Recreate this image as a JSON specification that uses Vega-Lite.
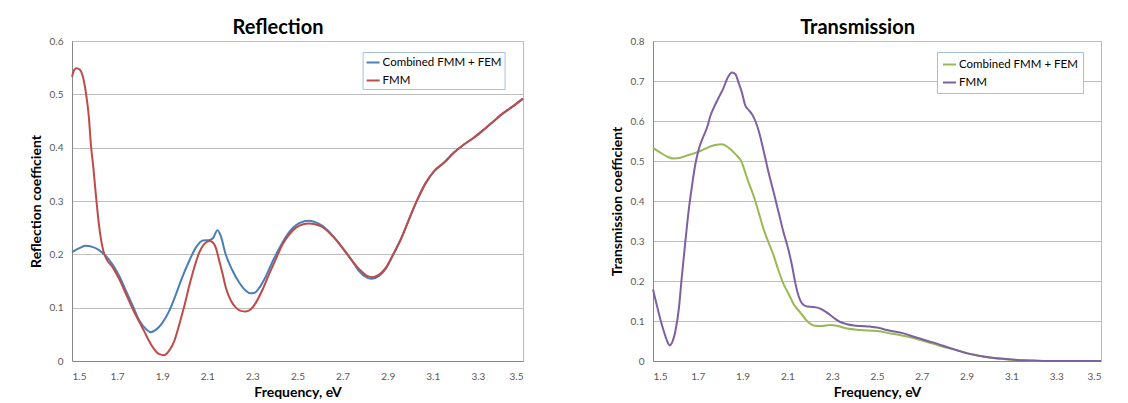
{
  "$schema": "https://vega.github.io/schema/vega-lite/v6.json",
  "background": "white",
  "padding": {"left": 28, "top": 17, "right": 5, "bottom": 0},
  "spacing": 81,
  "config": {
    "font": "Lato",
    "view": {"stroke": "#a7bfde", "strokeWidth": 1},
    "axis": {
      "labelFont": "Lato", "labelFontSize": 10, "labelColor": "#595959",
      "titleFont": "Lato", "titleFontSize": 14, "titleFontWeight": "bold", "titleColor": "#000000",
      "ticks": false, "domainColor": "#868686", "gridColor": "#bdbdbd", "gridWidth": 1
    },
    "axisX": {"grid": false, "labelPadding": 10, "titlePadding": 4},
    "axisY": {"grid": true, "labelPadding": 9, "titlePadding": 6},
    "title": {"font": "Lato", "fontSize": 20, "fontWeight": "bold", "color": "#000000", "frame": "bounds", "anchor": "middle", "offset": -2},
    "legend": {
      "strokeColor": "#a7bfde", "fillColor": "white", "padding": 3,
      "symbolType": "stroke", "symbolSize": 169, "symbolStrokeWidth": 2,
      "labelFont": "Lato", "labelFontSize": 11.5, "labelColor": "#000000",
      "labelOffset": 2, "rowPadding": 5, "labelLimit": 300
    }
  },
  "resolve": {"scale": {"color": "independent"}},
  "datasets": {
    "refl": [
      {"s": "Combined FMM + FEM", "f": 1.5, "v": 0.204},
      {"s": "Combined FMM + FEM", "f": 1.53, "v": 0.211},
      {"s": "Combined FMM + FEM", "f": 1.56, "v": 0.216},
      {"s": "Combined FMM + FEM", "f": 1.59, "v": 0.214},
      {"s": "Combined FMM + FEM", "f": 1.62, "v": 0.208},
      {"s": "Combined FMM + FEM", "f": 1.65, "v": 0.197},
      {"s": "Combined FMM + FEM", "f": 1.68, "v": 0.181},
      {"s": "Combined FMM + FEM", "f": 1.71, "v": 0.159},
      {"s": "Combined FMM + FEM", "f": 1.74, "v": 0.131},
      {"s": "Combined FMM + FEM", "f": 1.77, "v": 0.103},
      {"s": "Combined FMM + FEM", "f": 1.8, "v": 0.075},
      {"s": "Combined FMM + FEM", "f": 1.83, "v": 0.059},
      {"s": "Combined FMM + FEM", "f": 1.85, "v": 0.054},
      {"s": "Combined FMM + FEM", "f": 1.87, "v": 0.058},
      {"s": "Combined FMM + FEM", "f": 1.9, "v": 0.071},
      {"s": "Combined FMM + FEM", "f": 1.93, "v": 0.093},
      {"s": "Combined FMM + FEM", "f": 1.96, "v": 0.124},
      {"s": "Combined FMM + FEM", "f": 1.99, "v": 0.158},
      {"s": "Combined FMM + FEM", "f": 2.02, "v": 0.188},
      {"s": "Combined FMM + FEM", "f": 2.05, "v": 0.213},
      {"s": "Combined FMM + FEM", "f": 2.08, "v": 0.226},
      {"s": "Combined FMM + FEM", "f": 2.11, "v": 0.227},
      {"s": "Combined FMM + FEM", "f": 2.125, "v": 0.23},
      {"s": "Combined FMM + FEM", "f": 2.145, "v": 0.245},
      {"s": "Combined FMM + FEM", "f": 2.16, "v": 0.234},
      {"s": "Combined FMM + FEM", "f": 2.18, "v": 0.202},
      {"s": "Combined FMM + FEM", "f": 2.21, "v": 0.171},
      {"s": "Combined FMM + FEM", "f": 2.24, "v": 0.148},
      {"s": "Combined FMM + FEM", "f": 2.27, "v": 0.132},
      {"s": "Combined FMM + FEM", "f": 2.29, "v": 0.127},
      {"s": "Combined FMM + FEM", "f": 2.31, "v": 0.128},
      {"s": "Combined FMM + FEM", "f": 2.33, "v": 0.137},
      {"s": "Combined FMM + FEM", "f": 2.36, "v": 0.159},
      {"s": "Combined FMM + FEM", "f": 2.39, "v": 0.187},
      {"s": "Combined FMM + FEM", "f": 2.42, "v": 0.212},
      {"s": "Combined FMM + FEM", "f": 2.45, "v": 0.234},
      {"s": "Combined FMM + FEM", "f": 2.48, "v": 0.25},
      {"s": "Combined FMM + FEM", "f": 2.51, "v": 0.259},
      {"s": "Combined FMM + FEM", "f": 2.55, "v": 0.263},
      {"s": "Combined FMM + FEM", "f": 2.6, "v": 0.256},
      {"s": "Combined FMM + FEM", "f": 2.65, "v": 0.238},
      {"s": "Combined FMM + FEM", "f": 2.69, "v": 0.217},
      {"s": "Combined FMM + FEM", "f": 2.74, "v": 0.189},
      {"s": "Combined FMM + FEM", "f": 2.77, "v": 0.17},
      {"s": "Combined FMM + FEM", "f": 2.81, "v": 0.156},
      {"s": "Combined FMM + FEM", "f": 2.83, "v": 0.154},
      {"s": "Combined FMM + FEM", "f": 2.86, "v": 0.159},
      {"s": "Combined FMM + FEM", "f": 2.89, "v": 0.172},
      {"s": "Combined FMM + FEM", "f": 2.92, "v": 0.196},
      {"s": "Combined FMM + FEM", "f": 2.958, "v": 0.228},
      {"s": "Combined FMM + FEM", "f": 2.995, "v": 0.266},
      {"s": "Combined FMM + FEM", "f": 3.032, "v": 0.303},
      {"s": "Combined FMM + FEM", "f": 3.069, "v": 0.334},
      {"s": "Combined FMM + FEM", "f": 3.106, "v": 0.356},
      {"s": "Combined FMM + FEM", "f": 3.15, "v": 0.372},
      {"s": "Combined FMM + FEM", "f": 3.194, "v": 0.391},
      {"s": "Combined FMM + FEM", "f": 3.238, "v": 0.406},
      {"s": "Combined FMM + FEM", "f": 3.283, "v": 0.419},
      {"s": "Combined FMM + FEM", "f": 3.327, "v": 0.434},
      {"s": "Combined FMM + FEM", "f": 3.371, "v": 0.45},
      {"s": "Combined FMM + FEM", "f": 3.401, "v": 0.461},
      {"s": "Combined FMM + FEM", "f": 3.45, "v": 0.476},
      {"s": "Combined FMM + FEM", "f": 3.5, "v": 0.492},
      {"s": "FMM", "f": 1.5, "v": 0.533},
      {"s": "FMM", "f": 1.51, "v": 0.546},
      {"s": "FMM", "f": 1.52, "v": 0.549},
      {"s": "FMM", "f": 1.535, "v": 0.546},
      {"s": "FMM", "f": 1.55, "v": 0.53},
      {"s": "FMM", "f": 1.562, "v": 0.502},
      {"s": "FMM", "f": 1.574, "v": 0.461},
      {"s": "FMM", "f": 1.584, "v": 0.405},
      {"s": "FMM", "f": 1.595, "v": 0.361},
      {"s": "FMM", "f": 1.606, "v": 0.311},
      {"s": "FMM", "f": 1.618, "v": 0.261},
      {"s": "FMM", "f": 1.629, "v": 0.227},
      {"s": "FMM", "f": 1.64, "v": 0.205},
      {"s": "FMM", "f": 1.652, "v": 0.192},
      {"s": "FMM", "f": 1.68, "v": 0.176},
      {"s": "FMM", "f": 1.71, "v": 0.153},
      {"s": "FMM", "f": 1.74, "v": 0.125},
      {"s": "FMM", "f": 1.77, "v": 0.097},
      {"s": "FMM", "f": 1.8, "v": 0.072},
      {"s": "FMM", "f": 1.82, "v": 0.056},
      {"s": "FMM", "f": 1.84, "v": 0.039},
      {"s": "FMM", "f": 1.865, "v": 0.022},
      {"s": "FMM", "f": 1.887, "v": 0.013},
      {"s": "FMM", "f": 1.909, "v": 0.011},
      {"s": "FMM", "f": 1.93, "v": 0.019},
      {"s": "FMM", "f": 1.953, "v": 0.037},
      {"s": "FMM", "f": 1.976, "v": 0.069},
      {"s": "FMM", "f": 1.998, "v": 0.103},
      {"s": "FMM", "f": 2.02, "v": 0.141},
      {"s": "FMM", "f": 2.042, "v": 0.175},
      {"s": "FMM", "f": 2.064, "v": 0.203},
      {"s": "FMM", "f": 2.086, "v": 0.219},
      {"s": "FMM", "f": 2.109, "v": 0.225},
      {"s": "FMM", "f": 2.123, "v": 0.223},
      {"s": "FMM", "f": 2.138, "v": 0.212},
      {"s": "FMM", "f": 2.153, "v": 0.188},
      {"s": "FMM", "f": 2.168, "v": 0.163},
      {"s": "FMM", "f": 2.182, "v": 0.138},
      {"s": "FMM", "f": 2.205, "v": 0.113},
      {"s": "FMM", "f": 2.227, "v": 0.1},
      {"s": "FMM", "f": 2.249, "v": 0.094},
      {"s": "FMM", "f": 2.271, "v": 0.093},
      {"s": "FMM", "f": 2.293, "v": 0.097},
      {"s": "FMM", "f": 2.315, "v": 0.109},
      {"s": "FMM", "f": 2.345, "v": 0.134},
      {"s": "FMM", "f": 2.374, "v": 0.163},
      {"s": "FMM", "f": 2.404, "v": 0.191},
      {"s": "FMM", "f": 2.434, "v": 0.219},
      {"s": "FMM", "f": 2.463, "v": 0.237},
      {"s": "FMM", "f": 2.493, "v": 0.25},
      {"s": "FMM", "f": 2.522, "v": 0.256},
      {"s": "FMM", "f": 2.552, "v": 0.258},
      {"s": "FMM", "f": 2.58, "v": 0.256},
      {"s": "FMM", "f": 2.604, "v": 0.253},
      {"s": "FMM", "f": 2.648, "v": 0.2375},
      {"s": "FMM", "f": 2.693, "v": 0.216},
      {"s": "FMM", "f": 2.737, "v": 0.191},
      {"s": "FMM", "f": 2.774, "v": 0.172},
      {"s": "FMM", "f": 2.811, "v": 0.159},
      {"s": "FMM", "f": 2.833, "v": 0.157},
      {"s": "FMM", "f": 2.862, "v": 0.162},
      {"s": "FMM", "f": 2.892, "v": 0.175},
      {"s": "FMM", "f": 2.921, "v": 0.197},
      {"s": "FMM", "f": 2.958, "v": 0.228},
      {"s": "FMM", "f": 2.995, "v": 0.266},
      {"s": "FMM", "f": 3.032, "v": 0.303},
      {"s": "FMM", "f": 3.069, "v": 0.334},
      {"s": "FMM", "f": 3.106, "v": 0.356},
      {"s": "FMM", "f": 3.15, "v": 0.372},
      {"s": "FMM", "f": 3.194, "v": 0.391},
      {"s": "FMM", "f": 3.238, "v": 0.406},
      {"s": "FMM", "f": 3.283, "v": 0.419},
      {"s": "FMM", "f": 3.327, "v": 0.434},
      {"s": "FMM", "f": 3.371, "v": 0.45},
      {"s": "FMM", "f": 3.401, "v": 0.461},
      {"s": "FMM", "f": 3.45, "v": 0.476},
      {"s": "FMM", "f": 3.5, "v": 0.492}
    ],
    "trans": [
      {"s": "Combined FMM + FEM", "f": 1.5, "v": 0.533},
      {"s": "Combined FMM + FEM", "f": 1.533, "v": 0.521},
      {"s": "Combined FMM + FEM", "f": 1.563, "v": 0.511},
      {"s": "Combined FMM + FEM", "f": 1.592, "v": 0.506},
      {"s": "Combined FMM + FEM", "f": 1.622, "v": 0.508},
      {"s": "Combined FMM + FEM", "f": 1.652, "v": 0.514},
      {"s": "Combined FMM + FEM", "f": 1.682, "v": 0.519},
      {"s": "Combined FMM + FEM", "f": 1.711, "v": 0.525},
      {"s": "Combined FMM + FEM", "f": 1.741, "v": 0.533},
      {"s": "Combined FMM + FEM", "f": 1.778, "v": 0.54},
      {"s": "Combined FMM + FEM", "f": 1.808, "v": 0.542},
      {"s": "Combined FMM + FEM", "f": 1.838, "v": 0.533},
      {"s": "Combined FMM + FEM", "f": 1.868, "v": 0.517},
      {"s": "Combined FMM + FEM", "f": 1.897, "v": 0.496},
      {"s": "Combined FMM + FEM", "f": 1.912, "v": 0.471},
      {"s": "Combined FMM + FEM", "f": 1.927, "v": 0.446},
      {"s": "Combined FMM + FEM", "f": 1.949, "v": 0.413},
      {"s": "Combined FMM + FEM", "f": 1.972, "v": 0.371},
      {"s": "Combined FMM + FEM", "f": 1.994, "v": 0.329},
      {"s": "Combined FMM + FEM", "f": 2.016, "v": 0.296},
      {"s": "Combined FMM + FEM", "f": 2.039, "v": 0.263},
      {"s": "Combined FMM + FEM", "f": 2.061, "v": 0.225},
      {"s": "Combined FMM + FEM", "f": 2.083, "v": 0.192},
      {"s": "Combined FMM + FEM", "f": 2.106, "v": 0.167},
      {"s": "Combined FMM + FEM", "f": 2.128, "v": 0.142},
      {"s": "Combined FMM + FEM", "f": 2.158, "v": 0.121},
      {"s": "Combined FMM + FEM", "f": 2.188, "v": 0.1},
      {"s": "Combined FMM + FEM", "f": 2.217, "v": 0.089},
      {"s": "Combined FMM + FEM", "f": 2.254, "v": 0.0875},
      {"s": "Combined FMM + FEM", "f": 2.292, "v": 0.09},
      {"s": "Combined FMM + FEM", "f": 2.321, "v": 0.088},
      {"s": "Combined FMM + FEM", "f": 2.366, "v": 0.081},
      {"s": "Combined FMM + FEM", "f": 2.426, "v": 0.0775},
      {"s": "Combined FMM + FEM", "f": 2.5, "v": 0.075},
      {"s": "Combined FMM + FEM", "f": 2.56, "v": 0.069},
      {"s": "Combined FMM + FEM", "f": 2.634, "v": 0.061},
      {"s": "Combined FMM + FEM", "f": 2.709, "v": 0.05},
      {"s": "Combined FMM + FEM", "f": 2.783, "v": 0.0375},
      {"s": "Combined FMM + FEM", "f": 2.857, "v": 0.027},
      {"s": "Combined FMM + FEM", "f": 2.932, "v": 0.016},
      {"s": "Combined FMM + FEM", "f": 3.006, "v": 0.008},
      {"s": "Combined FMM + FEM", "f": 3.081, "v": 0.004},
      {"s": "Combined FMM + FEM", "f": 3.17, "v": 0.0015},
      {"s": "Combined FMM + FEM", "f": 3.274, "v": 0},
      {"s": "Combined FMM + FEM", "f": 3.5, "v": 0},
      {"s": "FMM", "f": 1.5, "v": 0.179},
      {"s": "FMM", "f": 1.518, "v": 0.1375},
      {"s": "FMM", "f": 1.533, "v": 0.104},
      {"s": "FMM", "f": 1.548, "v": 0.075},
      {"s": "FMM", "f": 1.563, "v": 0.05},
      {"s": "FMM", "f": 1.574, "v": 0.039},
      {"s": "FMM", "f": 1.585, "v": 0.046},
      {"s": "FMM", "f": 1.6, "v": 0.075},
      {"s": "FMM", "f": 1.615, "v": 0.129},
      {"s": "FMM", "f": 1.629, "v": 0.2125},
      {"s": "FMM", "f": 1.644, "v": 0.296},
      {"s": "FMM", "f": 1.659, "v": 0.375},
      {"s": "FMM", "f": 1.674, "v": 0.4375},
      {"s": "FMM", "f": 1.689, "v": 0.492},
      {"s": "FMM", "f": 1.704, "v": 0.529},
      {"s": "FMM", "f": 1.726, "v": 0.5625},
      {"s": "FMM", "f": 1.741, "v": 0.583},
      {"s": "FMM", "f": 1.756, "v": 0.6125},
      {"s": "FMM", "f": 1.771, "v": 0.633},
      {"s": "FMM", "f": 1.793, "v": 0.658},
      {"s": "FMM", "f": 1.815, "v": 0.683},
      {"s": "FMM", "f": 1.833, "v": 0.708},
      {"s": "FMM", "f": 1.853, "v": 0.721},
      {"s": "FMM", "f": 1.868, "v": 0.717},
      {"s": "FMM", "f": 1.882, "v": 0.696},
      {"s": "FMM", "f": 1.897, "v": 0.671},
      {"s": "FMM", "f": 1.912, "v": 0.639},
      {"s": "FMM", "f": 1.927, "v": 0.6275},
      {"s": "FMM", "f": 1.942, "v": 0.617},
      {"s": "FMM", "f": 1.957, "v": 0.6},
      {"s": "FMM", "f": 1.972, "v": 0.575},
      {"s": "FMM", "f": 1.987, "v": 0.542},
      {"s": "FMM", "f": 2.001, "v": 0.508},
      {"s": "FMM", "f": 2.016, "v": 0.471},
      {"s": "FMM", "f": 2.039, "v": 0.421},
      {"s": "FMM", "f": 2.061, "v": 0.371},
      {"s": "FMM", "f": 2.083, "v": 0.321},
      {"s": "FMM", "f": 2.106, "v": 0.275},
      {"s": "FMM", "f": 2.121, "v": 0.2375},
      {"s": "FMM", "f": 2.135, "v": 0.196},
      {"s": "FMM", "f": 2.15, "v": 0.1625},
      {"s": "FMM", "f": 2.165, "v": 0.144},
      {"s": "FMM", "f": 2.188, "v": 0.136},
      {"s": "FMM", "f": 2.217, "v": 0.135},
      {"s": "FMM", "f": 2.247, "v": 0.131},
      {"s": "FMM", "f": 2.277, "v": 0.121},
      {"s": "FMM", "f": 2.307, "v": 0.108},
      {"s": "FMM", "f": 2.336, "v": 0.0975},
      {"s": "FMM", "f": 2.366, "v": 0.092},
      {"s": "FMM", "f": 2.396, "v": 0.089},
      {"s": "FMM", "f": 2.426, "v": 0.0875},
      {"s": "FMM", "f": 2.47, "v": 0.086},
      {"s": "FMM", "f": 2.5, "v": 0.084},
      {"s": "FMM", "f": 2.545, "v": 0.0775},
      {"s": "FMM", "f": 2.619, "v": 0.069},
      {"s": "FMM", "f": 2.679, "v": 0.058},
      {"s": "FMM", "f": 2.753, "v": 0.046},
      {"s": "FMM", "f": 2.828, "v": 0.032},
      {"s": "FMM", "f": 2.902, "v": 0.019},
      {"s": "FMM", "f": 2.976, "v": 0.011},
      {"s": "FMM", "f": 3.051, "v": 0.006},
      {"s": "FMM", "f": 3.125, "v": 0.0025},
      {"s": "FMM", "f": 3.2, "v": 0.001},
      {"s": "FMM", "f": 3.274, "v": 0},
      {"s": "FMM", "f": 3.5, "v": 0}
    ]
  },
  "hconcat": [
    {
      "title": "Reflection",
      "width": 451,
      "height": 320,
      "data": {"name": "refl"},
      "mark": {"type": "line", "interpolate": "monotone", "strokeWidth": 2},
      "encoding": {
        "x": {"field": "f", "type": "quantitative", "scale": {"domain": [1.5, 3.5], "nice": false, "zero": false},
              "axis": {"title": "Frequency, eV", "values": [1.5, 1.7, 1.9, 2.1, 2.3, 2.5, 2.7, 2.9, 3.1, 3.3, 3.5], "format": ".1f"}},
        "y": {"field": "v", "type": "quantitative", "scale": {"domain": [0, 0.6], "nice": false},
              "axis": {"title": "Reflection coefficient", "values": [0, 0.1, 0.2, 0.3, 0.4, 0.5, 0.6], "format": ".1~f"}},
        "color": {"field": "s", "type": "nominal",
                  "scale": {"domain": ["Combined FMM + FEM", "FMM"], "range": ["#4a7ebb", "#be4b48"]},
                  "legend": {"title": null, "orient": "none", "legendX": 290.6, "legendY": 11}}
      }
    },
    {
      "title": "Transmission",
      "width": 448,
      "height": 320,
      "data": {"name": "trans"},
      "mark": {"type": "line", "interpolate": "monotone", "strokeWidth": 2},
      "encoding": {
        "x": {"field": "f", "type": "quantitative", "scale": {"domain": [1.5, 3.5], "nice": false, "zero": false},
              "axis": {"title": "Frequency, eV", "values": [1.5, 1.7, 1.9, 2.1, 2.3, 2.5, 2.7, 2.9, 3.1, 3.3, 3.5], "format": ".1f"}},
        "y": {"field": "v", "type": "quantitative", "scale": {"domain": [0, 0.8], "nice": false},
              "axis": {"title": "Transmission coefficient", "values": [0, 0.1, 0.2, 0.3, 0.4, 0.5, 0.6, 0.7, 0.8], "format": ".1~f"}},
        "color": {"field": "s", "type": "nominal",
                  "scale": {"domain": ["Combined FMM + FEM", "FMM"], "range": ["#98b954", "#7d60a0"]},
                  "legend": {"title": null, "orient": "none", "legendX": 284, "legendY": 11, "padding": 5}}
      }
    }
  ]
}
